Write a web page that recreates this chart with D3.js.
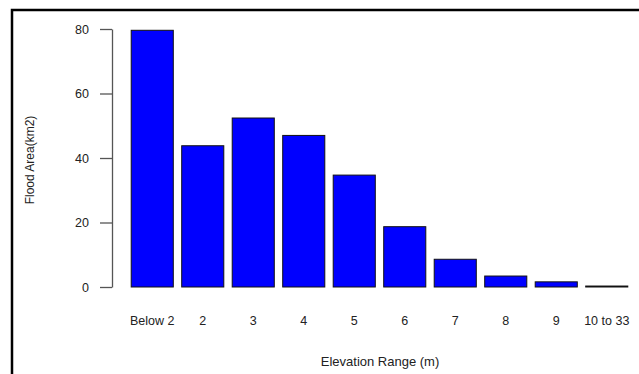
<!DOCTYPE html>
<html>
<head>
<meta charset="utf-8">
<script src="https://cdn.jsdelivr.net/npm/d3@7"></script>
<style>
  body { margin: 0; background: #fff; }
  svg { display: block; font-family: "Liberation Sans", Arial, sans-serif; }
</style>
</head>
<body>
<div id="chart"></div>
<script>
// elevation classes and flooded area
const categories = ["Below 2", "2", "3", "4", "5", "6", "7", "8", "9", "10 to 33"];
const floodArea = [79.6, 43.8, 52.4, 47.0, 34.7, 18.7, 8.6, 3.4, 1.6, 0.3];
const yTicks = [0, 20, 40, 60, 80];

const width = 639, height = 374;

const svg = d3.select("#chart").append("svg")
    .attr("width", width)
    .attr("height", height);

// outer frame (right and bottom edges fall outside the picture)
svg.append("rect")
    .attr("x", 12).attr("y", 10)
    .attr("width", 700).attr("height", 500)
    .attr("fill", "none")
    .attr("stroke", "#000")
    .attr("stroke-width", 2.5);

const x = d3.scaleBand()
    .domain(categories)
    .range([127, 632])
    .paddingInner(1 - 1 / 1.2)
    .paddingOuter(0.0833);

const y = d3.scaleLinear()
    .domain([0, 80])
    .range([287, 29]);

// bars
svg.selectAll("rect.bar")
    .data(floodArea)
    .join("rect")
        .attr("class", "bar")
        .attr("x", (d, i) => x(categories[i]))
        .attr("y", d => y(d))
        .attr("width", x.bandwidth())
        .attr("height", d => y(0) - y(d))
        .attr("fill", "#0000ff")
        .attr("stroke", "#111")
        .attr("stroke-width", 1);

// y axis, R style
const yAxis = svg.append("g")
    .attr("transform", "translate(112,0)")
    .call(d3.axisLeft(y).tickValues(yTicks).tickSize(12).tickSizeOuter(0).tickPadding(11));
yAxis.select(".domain").attr("stroke", "#555").attr("stroke-width", 1.3);
yAxis.selectAll(".tick line").attr("stroke", "#555").attr("stroke-width", 1.3);
yAxis.selectAll(".tick text")
    .attr("fill", "#222")
    .style("font-size", "12.5px");

// category labels (no axis line)
svg.append("g").selectAll("text")
    .data(categories)
    .join("text")
        .attr("x", d => x(d) + x.bandwidth() / 2)
        .attr("y", 325)
        .attr("text-anchor", "middle")
        .attr("fill", "#222")
        .style("font-size", "12.5px")
        .text(d => d);

// axis titles
svg.append("text")
    .attr("x", 380)
    .attr("y", 366)
    .attr("text-anchor", "middle")
    .attr("fill", "#222")
    .style("font-size", "13px")
    .text("Elevation Range (m)");

svg.append("text")
    .attr("transform", "translate(34,160) rotate(-90)")
    .attr("text-anchor", "middle")
    .attr("fill", "#222")
    .style("font-size", "12px")
    .text("Flood Area(km2)");
</script>
</body>
</html>
